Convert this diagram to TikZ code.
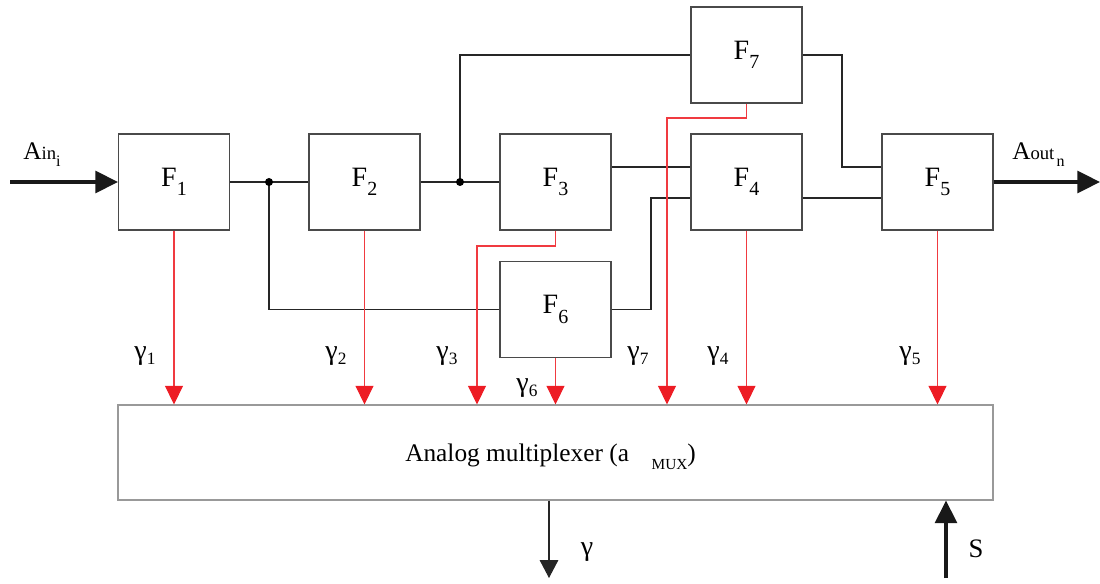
\documentclass[tikz,border=0pt]{standalone}
\usepackage{fontspec}
\setmainfont{Liberation Serif}
\usetikzlibrary{arrows.meta}
\definecolor{sigred}{HTML}{ED1C24}
\definecolor{sigline}{HTML}{F03A40}
\definecolor{boxgray}{HTML}{4A4A4A}
\definecolor{muxgray}{HTML}{999999}
\newcommand{\Flab}[1]{{\fontsize{21}{25}\selectfont F\raisebox{-7pt}{\fontsize{15}{18}\selectfont #1}}}
\newcommand{\glab}[1]{{\fontsize{21}{25}\selectfont γ\raisebox{-4pt}{\fontsize{13}{15}\selectfont #1}}}
\begin{document}
\begin{tikzpicture}[x=0.75pt,y=-0.75pt,
  box/.style={draw=boxgray, line width=0.8pt, minimum width=83.25pt, minimum height=72pt, inner sep=0pt},
  wire/.style={draw=black!85, line width=0.8pt},
  sig/.style={draw=sigline, line width=0.8pt, -{Triangle[length=14pt,width=13.5pt,fill=sigred,color=sigred]}},
  bigarrow/.style={draw=black!90, line width=2.3pt, -{Triangle[length=17pt,width=16.5pt]}},
  outarrow/.style={draw=black!85, line width=0.8pt, -{Triangle[length=13.5pt,width=14pt]}},
  lab/.style={inner sep=0pt}]
\useasboundingbox (0,0) rectangle (1100,584);

% function blocks
\node[box] (F1) at (174,182) {\Flab{1}};
\node[box] (F2) at (364.5,182) {\Flab{2}};
\node[box] (F3) at (555.5,182) {\Flab{3}};
\node[box] (F4) at (746.5,182) {\Flab{4}};
\node[box] (F5) at (937.5,182) {\Flab{5}};
\node[box] (F7) at (746.5,55) {\Flab{7}};
\node[box] (F6) at (555.5,309.5) {\Flab{6}};
\node[draw=muxgray, line width=0.8pt, minimum width=656.25pt, minimum height=71.25pt, inner sep=0pt] (mux) at (555.5,452.5) {};
\node[lab, anchor=base west] (muxt) at (405,462) {\fontsize{19}{23}\selectfont Analog multiplexer (a\hspace{17pt}\raisebox{-5.5pt}{\fontsize{11.5}{14}\selectfont MUX})};

% helper coordinates
\coordinate (inL) at (10,182);
\coordinate (outR) at (1100,182);
\coordinate (j1) at (269,182);
\coordinate (j2) at (460,182);
\coordinate (ya) at (0,167);
\coordinate (yb) at (0,198);
\coordinate (k6) at (651,198);
\coordinate (k7) at (842,167);
\coordinate (r3) at (477,246);
\coordinate (r7) at (667,118);
\coordinate (gout) at (549,578);
\coordinate (sin) at (946,578);

% black wires
\draw[wire] (F1.east) -- (F2.west);
\draw[wire] (j1) |- (F6.west);
\draw[wire] (F2.east) -- (F3.west);
\draw[wire] (j2) |- (F7.west);
\draw[wire] (F3.east |- ya) -- (F4.west |- ya);
\draw[wire] (F6.east) -| (k6) -- (F4.west |- k6);
\draw[wire] (F7.east) -| (k7) -- (F5.west |- k7);
\draw[wire] (F4.east |- yb) -- (F5.west |- yb);
\fill (j1) circle (3pt);
\fill (j2) circle (3pt);

% input / output
\draw[bigarrow] (inL) -- (F1.west);
\draw[bigarrow] (F5.east) -- (outR);
\draw[outarrow] (gout |- mux.south) -- (gout);
\draw[bigarrow] (sin) -- (sin |- mux.south);

% red signals
\draw[sig] (F1.south) -- (F1.south |- mux.north);
\draw[sig] (F2.south) -- (F2.south |- mux.north);
\draw[sig] (F3.south) |- (r3) -- (r3 |- mux.north);
\draw[sig] (F6.south) -- (F6.south |- mux.north);
\draw[sig] (F7.south) |- (r7) -- (r7 |- mux.north);
\draw[sig] (F4.south) -- (F4.south |- mux.north);
\draw[sig] (F5.south) -- (F5.south |- mux.north);

% labels
\node[lab, anchor=base west] (ain) at (23,160) {{\fontsize{19}{22}\selectfont A}{\fontsize{14}{17}\selectfont in}\raisebox{-5pt}{\fontsize{12}{14}\selectfont i}};
\node[lab, anchor=base west] (aout) at (1012,160) {{\fontsize{19}{22}\selectfont A}{\fontsize{14}{17}\selectfont out}\,\raisebox{-5pt}{\fontsize{12}{14}\selectfont n}};
\node[lab] (g1) at (145,356) {\glab{1}};
\node[lab] (g2) at (336,356) {\glab{2}};
\node[lab] (g3) at (447,356) {\glab{3}};
\node[lab] (g6) at (527,388) {\glab{6}};
\node[lab] (g7) at (638,356) {\glab{7}};
\node[lab] (g4) at (718,356) {\glab{4}};
\node[lab] (g5) at (910,356) {\glab{5}};
\node[lab] (gam) at (587,552) {\fontsize{21}{25}\selectfont γ};
\node[lab] (S) at (976,549) {\fontsize{20}{24}\selectfont S};
\end{tikzpicture}
\end{document}
